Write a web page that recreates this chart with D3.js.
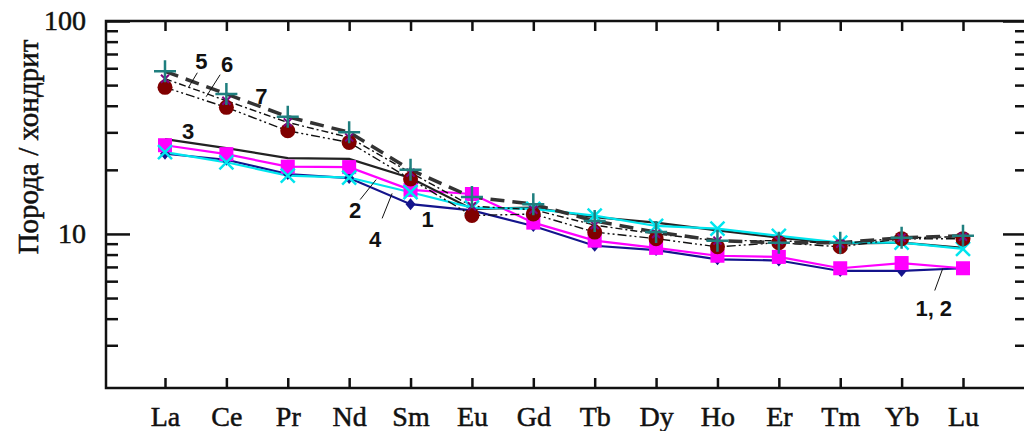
<!DOCTYPE html>
<html>
<head>
<meta charset="utf-8">
<script src="https://cdn.jsdelivr.net/npm/d3@7"></script>
<style>
  html, body { margin: 0; padding: 0; background: #fff; }
  svg { display: block; }
</style>
</head>
<body>
<div id="chart"></div>
<script>
// REE categories
const elements = ['La', 'Ce', 'Pr', 'Nd', 'Sm', 'Eu', 'Gd', 'Tb', 'Dy', 'Ho', 'Er', 'Tm', 'Yb', 'Lu'];

// chondrite-normalized values
const s1 = [23.8, 22.3, 19.1, 18.3, 13.8, 12.9, 10.9, 8.8, 8.4, 7.6, 7.5, 6.7, 6.7, 6.9];
const s2 = [26.1, 23.7, 20.7, 20.6, 16.1, 15.4, 11.3, 9.3, 8.6, 7.9, 7.8, 6.9, 7.3, 6.9];
const s3 = [27.9, 25.3, 22.7, 22.5, 18.3, 13.1, 13.3, 12.0, 11.3, 10.4, 9.6, 9.0, 9.1, 8.6];
const s4 = [24.2, 21.7, 18.8, 18.4, 15.7, 13.3, 13.1, 12.2, 10.9, 10.6, 9.8, 9.1, 9.1, 8.5];
const s5 = [53.6, 42.2, 33.4, 28.4, 19.4, 13.5, 13.0, 11.0, 10.0, 9.3, 9.3, 9.0, 9.6, 9.7];
const s6 = [48.8, 39.3, 30.5, 26.9, 18.1, 12.2, 12.4, 10.2, 9.5, 8.7, 9.1, 8.7, 9.5, 9.5];
const s7 = [58.0, 45.4, 35.5, 30.0, 20.0, 14.9, 13.8, 11.5, 10.2, 9.3, 9.1, 9.1, 9.6, 9.8];

// y axis ticks
const majorTicks = [10, 100];
const minorTicks = [3, 4, 5, 6, 7, 8, 9, 20, 30, 40, 50, 60, 70, 80, 90];

const width = 1024, height = 431;
const plotLeft = 106, plotRight = 1027, plotTop = 21, plotBottom = 388;

const svg = d3.select('#chart').append('svg')
    .attr('width', width)
    .attr('height', height);

const x = d3.scalePoint().domain(elements).range([165, 963]);
const y = d3.scaleLog().domain([1.89, 100]).range([plotBottom, plotTop]);
const step = x.step();

// position between categories (fractional index)
const at = (i, v) => [x(elements[0]) + i * step, y(v)];

const series = [
    {id: 1, values: s1, color: '#14148c', width: 2.2, dash: null, marker: 'diamond'},
    {id: 2, values: s2, color: '#ff00ff', width: 2.2, dash: null, marker: 'square'},
    {id: 3, values: s3, color: '#222', width: 2.2, dash: null, marker: null},
    {id: 4, values: s4, color: '#00e5ee', width: 2.2, dash: null, marker: 'cross'},
    {id: 5, values: s5, color: '#111', width: 1.4, dash: '7,3,2,3', marker: 'smallx'},
    {id: 6, values: s6, color: '#111', width: 1.4, dash: '9,3,2,3,2,3', marker: 'circle'},
    {id: 7, values: s7, color: '#333', width: 3.5, dash: '14,8', marker: 'plus'}
];

// lines
const line = d3.line()
    .x((d, i) => x(elements[i]))
    .y(d => y(d));

svg.append('g').selectAll('path')
    .data(series)
    .join('path')
    .attr('d', d => line(d.values))
    .attr('fill', 'none')
    .attr('stroke', d => d.color)
    .attr('stroke-width', d => d.width)
    .attr('stroke-dasharray', d => d.dash);

// markers, drawn in order
const markerOrder = ['diamond', 'square', 'cross', 'circle', 'smallx', 'plus'];
const mg = svg.append('g');
markerOrder.forEach(m => {
    const s = series.find(d => d.marker === m);
    const g = mg.append('g');
    const pts = s.values.map((v, i) => [x(elements[i]), y(v)]);
    if (m === 'diamond') {
        g.selectAll('path').data(pts).join('path')
            .attr('d', d => `M${d[0]},${d[1] - 6}L${d[0] + 5},${d[1]}L${d[0]},${d[1] + 6}L${d[0] - 5},${d[1]}Z`)
            .attr('fill', '#14148c');
    } else if (m === 'square') {
        g.selectAll('rect').data(pts).join('rect')
            .attr('x', d => d[0] - 7).attr('y', d => d[1] - 7)
            .attr('width', 14).attr('height', 14)
            .attr('fill', '#ff00ff');
    } else if (m === 'cross') {
        g.selectAll('path').data(pts).join('path')
            .attr('d', d => `M${d[0] - 7},${d[1] - 7}L${d[0] + 7},${d[1] + 7}M${d[0] - 7},${d[1] + 7}L${d[0] + 7},${d[1] - 7}`)
            .attr('stroke', '#00e5ee').attr('stroke-width', 2.5);
    } else if (m === 'circle') {
        g.selectAll('circle').data(pts).join('circle')
            .attr('cx', d => d[0]).attr('cy', d => d[1]).attr('r', 7.5)
            .attr('fill', '#800000');
    } else if (m === 'smallx') {
        g.selectAll('path').data(pts).join('path')
            .attr('d', d => `M${d[0] - 4},${d[1] - 4}L${d[0] + 4},${d[1] + 4}M${d[0] - 4},${d[1] + 4}L${d[0] + 4},${d[1] - 4}`)
            .attr('stroke', '#800080').attr('stroke-width', 2);
    } else if (m === 'plus') {
        g.selectAll('path').data(pts).join('path')
            .attr('d', d => `M${d[0] - 11},${d[1]}L${d[0] + 11},${d[1]}M${d[0]},${d[1] - 11}L${d[0]},${d[1] + 11}`)
            .attr('stroke', '#1f7f7f').attr('stroke-width', 2.5);
    }
});

// series labels with leader lines
const notes = [
    {t: '5', i: 0.38, v: 48.6, lead: [9, -15], dx: 13, dy: -27},
    {t: '6', i: 0.67, v: 44.1, lead: [14, -22], dx: 21, dy: -33},
    {t: '7', i: 1.57, v: 44.6, lead: null, dx: 0, dy: 0},
    {t: '3', i: 0.375, v: 30.5, lead: null, dx: 0, dy: 0},
    {t: '2', i: 3.44, v: 18.0, lead: [-16, 20], dx: -21, dy: 31},
    {t: '4', i: 3.70, v: 15.5, lead: [-10, 25], dx: -17, dy: 46},
    {t: '1', i: 4.28, v: 11.8, lead: null, dx: 0, dy: 0},
    {t: '1, 2', i: 12.67, v: 6.88, lead: [-8, 22], dx: -9, dy: 40}
];
const ng = svg.append('g');
notes.forEach(n => {
    const [px, py] = at(n.i, n.v);
    if (n.lead) {
        ng.append('line')
            .attr('x1', px).attr('y1', py)
            .attr('x2', px + n.lead[0]).attr('y2', py + n.lead[1])
            .attr('stroke', '#111').attr('stroke-width', 1);
    }
    ng.append('text')
        .attr('x', px + n.dx).attr('y', py + n.dy)
        .attr('dy', '0.36em')
        .attr('text-anchor', 'middle')
        .style('font-family', '"Liberation Sans", Arial, sans-serif')
        .style('font-weight', 'bold')
        .style('font-size', '22px')
        .attr('fill', '#111')
        .text(n.t);
});

// axes
const serif = '"Liberation Serif", "Times New Roman", serif';
const serifText = (sel, size) => sel
    .style('font-size', size)
    .style('font-family', serif)
    .attr('fill', '#111')
    .attr('stroke', '#111')
    .attr('stroke-width', 0.5);

svg.append('g')
    .attr('transform', `translate(${plotLeft},0)`)
    .call(d3.axisLeft(y).tickValues(minorTicks).tickSize(-12).tickSizeOuter(0).tickFormat(''));
svg.append('g')
    .attr('transform', `translate(${plotLeft},0)`)
    .call(d3.axisLeft(y).tickValues(majorTicks).tickSize(-24).tickSizeOuter(0).tickPadding(20).tickFormat(d3.format('d')))
    .call(g => serifText(g.selectAll('text'), '28px'));
svg.append('g')
    .attr('transform', `translate(${plotRight},0)`)
    .call(d3.axisRight(y).tickValues(minorTicks).tickSize(-12).tickSizeOuter(0).tickFormat(''));
svg.append('g')
    .attr('transform', `translate(${plotRight},0)`)
    .call(d3.axisRight(y).tickValues(majorTicks).tickSize(-24).tickSizeOuter(0).tickFormat(''));
svg.append('g')
    .attr('transform', `translate(0,${plotBottom})`)
    .call(d3.axisBottom(x).tickSize(-10).tickSizeOuter(0).tickPadding(18))
    .call(g => serifText(g.selectAll('text'), '28px'));
svg.append('g')
    .attr('transform', `translate(0,${plotTop})`)
    .call(d3.axisTop(x).tickSize(-10).tickSizeOuter(0).tickFormat(''));

svg.selectAll('.domain').remove();
svg.selectAll('.tick line').attr('stroke', '#111').attr('stroke-width', 2.5);

svg.append('rect')
    .attr('x', plotLeft).attr('y', plotTop)
    .attr('width', plotRight - plotLeft).attr('height', plotBottom - plotTop)
    .attr('fill', 'none')
    .attr('stroke', '#111')
    .attr('stroke-width', 2.5);

// y title
svg.append('text')
    .attr('transform', 'translate(28,147) rotate(-90)')
    .attr('dy', '0.36em')
    .attr('text-anchor', 'middle')
    .text('Порода / хондрит')
    .call(t => serifText(t, '29px'));
</script>
</body>
</html>
